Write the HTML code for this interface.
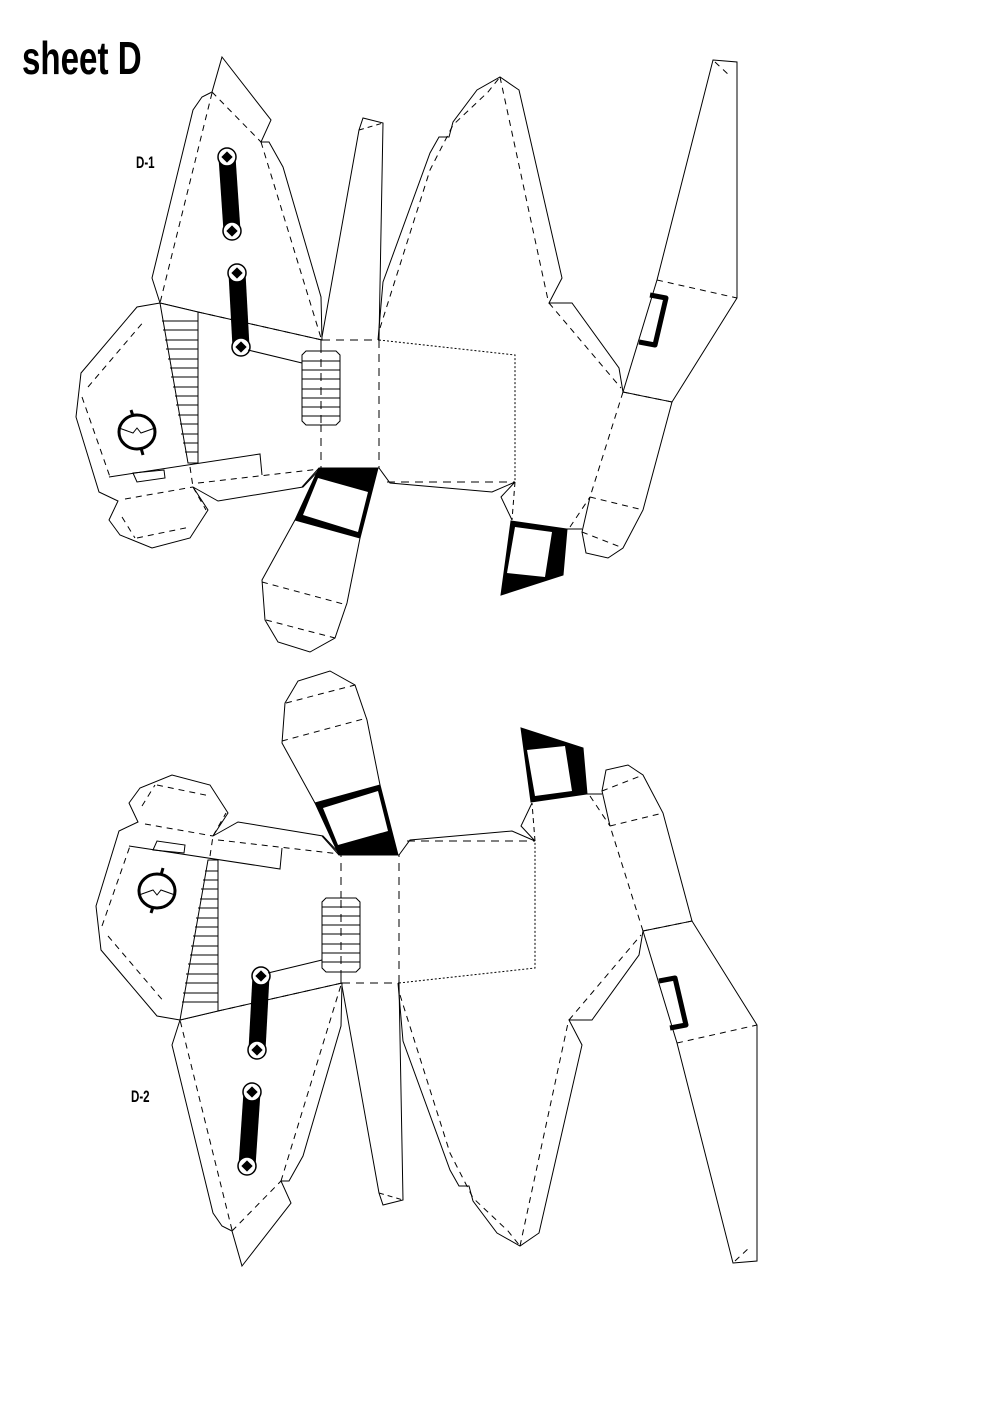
<!DOCTYPE html>
<html><head><meta charset="utf-8"><style>
html,body{margin:0;padding:0;background:#fff;}
svg{display:block;}
</style></head><body>
<svg width="992" height="1403" viewBox="0 0 992 1403" xmlns="http://www.w3.org/2000/svg">
<defs>
<g id="d1" fill="none" stroke="#000" stroke-width="1">
<!-- piece A -->
<polygon fill="#fff" points="222,57 271,120 261,142 269,142 283,167 321,297 322,340 198,312 160,303 152,278 193,110 202,97 212,92"/>
<g stroke-dasharray="6,5">
<line x1="212" y1="92" x2="261" y2="142"/>
<line x1="212" y1="93" x2="160" y2="303"/>
<line x1="261" y1="142" x2="321" y2="338"/>
<line x1="198" y1="312" x2="322" y2="340"/>
</g>
<!-- spike B -->
<polyline points="322,337 359,130 363,118 383,123 379,340"/>
<line x1="359" y1="130" x2="383" y2="123" stroke-dasharray="5,4"/>
<!-- piece C -->
<polyline points="378,340 383,282 430,153 439,137 449,137 453,122 477,90 500,77 519,90 562,278 549,303 572,303 619,368 623,392"/>
<g stroke-dasharray="6,5">
<polyline points="380,328 430,170 453,125 488,92 500,77"/>
<line x1="500" y1="77" x2="548" y2="300"/>
<line x1="549" y1="303" x2="621" y2="388"/>
</g>
<!-- central box -->
<g stroke-dasharray="8,6">
<line x1="321" y1="340" x2="321" y2="468"/>
<line x1="379" y1="340" x2="379" y2="468"/>
<line x1="322" y1="340" x2="379" y2="340"/>
<line x1="387" y1="482" x2="515" y2="482"/>
<line x1="379" y1="468" x2="320" y2="469"/>
</g>
<polyline points="379,340 515,355 515,482" stroke-dasharray="2,2"/>
<polyline points="379,468 390,483 492,492 515,482 501,497 512,520"/>
<line x1="515" y1="482" x2="512" y2="520" stroke-dasharray="5,4"/>
<!-- wing D -->
<polygon points="713,60 737,62 737,298 672,402 623,392 657,280"/>
<g stroke-dasharray="6,5">
<line x1="657" y1="280" x2="737" y2="298"/>
<line x1="623" y1="392" x2="672" y2="402"/>
<line x1="715" y1="62" x2="730" y2="76"/>
<line x1="623" y1="392" x2="590" y2="497"/>
<line x1="590" y1="497" x2="643" y2="510"/>
<line x1="582" y1="532" x2="623" y2="548"/>
<line x1="570" y1="527" x2="590" y2="497"/>
</g>
<polyline points="650,295 666,298 655,345 639,342" stroke-width="5" stroke-linejoin="round"/>
<!-- leg E -->
<polyline points="672,402 643,510 623,548 608,558 586,553 582,532 590,497"/>
<line x1="567" y1="529" x2="582" y2="529"/>
<!-- black lower right -->
<polygon fill="#000" points="511,521 567,529 563,575 501,595"/>
<polygon fill="#fff" stroke="none" points="515,527 552,532 545,577 507,573"/>
<!-- head -->
<polyline fill="#fff" points="160,303 137,307 81,373 76,417 99,492 118,501 109,520 120,535 152,548 190,538 208,510 193,487 218,501 303,487 320,469"/>
<polygon fill="#fff" points="160,303 198,312 198,463 188,463"/>
<g>
<line x1="162" y1="321" x2="198" y2="321"/><line x1="163" y1="330" x2="198" y2="330"/>
<line x1="165" y1="340" x2="198" y2="340"/><line x1="166" y1="349" x2="198" y2="349"/>
<line x1="168" y1="359" x2="198" y2="359"/><line x1="170" y1="368" x2="198" y2="368"/>
<line x1="171" y1="377" x2="198" y2="377"/><line x1="173" y1="387" x2="198" y2="387"/>
<line x1="175" y1="396" x2="198" y2="396"/><line x1="176" y1="405" x2="198" y2="405"/>
<line x1="178" y1="415" x2="198" y2="415"/><line x1="180" y1="424" x2="198" y2="424"/>
<line x1="181" y1="434" x2="198" y2="434"/><line x1="183" y1="443" x2="198" y2="443"/>
<line x1="185" y1="452" x2="198" y2="452"/>
</g>
<polyline points="109,477 260,454 262,475"/>
<polygon points="133,473 164,470 165,478 137,482"/>
<g stroke-dasharray="6,5">
<line x1="88" y1="387" x2="145" y2="320"/>
<line x1="82" y1="397" x2="110" y2="477"/>
<line x1="125" y1="499" x2="193" y2="487"/>
<line x1="122" y1="517" x2="135" y2="538"/>
<line x1="137" y1="538" x2="190" y2="527"/>
<line x1="190" y1="467" x2="193" y2="487"/>
<line x1="193" y1="487" x2="206" y2="510"/>
<line x1="198" y1="483" x2="320" y2="469"/>
</g>
<ellipse cx="137" cy="432" rx="18" ry="17" stroke-width="3"/>
<line x1="131" y1="410" x2="133" y2="416" stroke-width="3"/>
<line x1="141" y1="448" x2="143" y2="455" stroke-width="3"/>
<polyline points="119,428 133,433 137,428 141,433 155,428"/>
<!-- bars -->
<line x1="227" y1="157" x2="232" y2="231" stroke-width="17"/>
<line x1="237" y1="273" x2="241" y2="347" stroke-width="17"/>
<g fill="#fff" stroke-width="1.5">
<circle cx="227" cy="157" r="9"/><circle cx="232" cy="231" r="9"/>
<circle cx="237" cy="273" r="9"/><circle cx="241" cy="347" r="9"/>
</g>
<g fill="#000" stroke="none">
<rect x="223" y="153" width="8" height="8" transform="rotate(45 227 157)"/>
<rect x="228" y="227" width="8" height="8" transform="rotate(45 232 231)"/>
<rect x="233" y="269" width="8" height="8" transform="rotate(45 237 273)"/>
<rect x="237" y="343" width="8" height="8" transform="rotate(45 241 347)"/>
</g>
<line x1="248" y1="350" x2="302" y2="363"/>
<!-- ladder -->
<polygon fill="#fff" points="306,351 336,351 340,355 340,421 336,425 306,425 302,421 302,355"/>
<g>
<line x1="302" y1="361" x2="340" y2="361"/><line x1="302" y1="370" x2="340" y2="370"/>
<line x1="302" y1="379" x2="340" y2="379"/><line x1="302" y1="389" x2="340" y2="389"/>
<line x1="302" y1="398" x2="340" y2="398"/><line x1="302" y1="407" x2="340" y2="407"/>
<line x1="302" y1="416" x2="340" y2="416"/>
</g>
<line x1="321" y1="345" x2="321" y2="430" stroke-dasharray="8,6"/>
<!-- leg F -->
<polygon fill="#000" points="319,468 378,468 360,538 295,520"/>
<polygon fill="#fff" stroke="none" points="318,478 368,492 358,532 303,515"/>
<polyline points="295,520 262,580 265,620 278,642 310,652 335,638 347,603 360,538"/>
<line x1="319" y1="468" x2="302" y2="487"/>
<g stroke-dasharray="6,5">
<line x1="262" y1="582" x2="347" y2="605"/>
<line x1="266" y1="620" x2="335" y2="638"/>
</g>
</g>
</defs>
<text x="22" y="74" font-family="Liberation Sans, sans-serif" font-weight="bold" font-size="46" transform="translate(22 0) scale(0.72 1) translate(-22 0)">sheet D</text>
<text x="136" y="168" font-family="Liberation Sans, sans-serif" font-weight="bold" font-size="17" transform="translate(136 0) scale(0.68 1) translate(-136 0)">D-1</text>
<text x="131" y="1102" font-family="Liberation Sans, sans-serif" font-weight="bold" font-size="17" transform="translate(131 0) scale(0.68 1) translate(-131 0)">D-2</text>
<use href="#d1"/>
<use href="#d1" transform="matrix(1,0,0,-1,20,1323)"/>
</svg>
</body></html>
